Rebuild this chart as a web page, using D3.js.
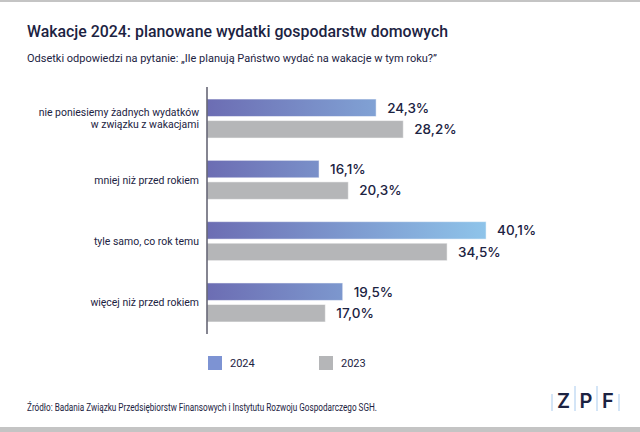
<!DOCTYPE html>
<html><head><meta charset="utf-8">
<script src="https://cdn.jsdelivr.net/npm/d3@7"></script>
<style>
body{margin:0;background:#fff;}
svg{display:block;font-family:Roboto,"Noto Sans",sans-serif;}
</style></head><body>
<svg id="c" width="640" height="432"></svg>
<script>
const categories = ["nie poniesiemy żadnych wydatków\nw związku z wakacjami","mniej niż przed rokiem","tyle samo, co rok temu","więcej niż przed rokiem"];
const series = ["2024","2023"];
const values2024 = [24.3,16.1,40.1,19.5];
const values2023 = [28.2,20.3,34.5,17.0];
const title = "Wakacje 2024: planowane wydatki gospodarstw domowych";
const subtitle = "Odsetki odpowiedzi na pytanie: „Ile planują Państwo wydać na wakacje w tym roku?”";
const source = "Źródło: Badania Związku Przedsiębiorstw Finansowych i Instytutu Rozwoju Gospodarczego SGH.";

const svg = d3.select("#c");
const navy = "#1c2342";
function squeeze(sel, f){ sel.each(function(){ const w=this.getComputedTextLength(); d3.select(this).attr("textLength",w*f).attr("lengthAdjust","spacingAndGlyphs"); }); }

svg.append("rect").attr("x",0).attr("y",0).attr("width",640).attr("height",2).attr("fill","#c4c4c4");
svg.append("rect").attr("x",0).attr("y",427).attr("width",640).attr("height",5).attr("fill","#c4c4c4");

const tt = svg.append("text").attr("x",27).attr("y",37).attr("font-size",16).attr("font-weight",500).attr("fill",navy).text(title);
tt.attr("textLength",421).attr("lengthAdjust","spacingAndGlyphs");
const st = svg.append("text").attr("x",27).attr("y",62).attr("font-size",11.2).attr("fill",navy).text(subtitle);
st.attr("textLength",410).attr("lengthAdjust","spacingAndGlyphs");

const x = d3.scaleLinear().domain([0,50]).range([207,555]);
const y0 = d3.scaleBand().domain(categories).range([88,333]).paddingInner(0.364).paddingOuter(0.18);
const y1 = d3.scaleBand().domain(series).range([0,y0.bandwidth()]).paddingInner(0.19);

const defs = svg.append("defs");
const grad = defs.append("linearGradient").attr("id","g24").attr("gradientUnits","userSpaceOnUse")
  .attr("x1",x(0)).attr("x2",x(40.1)).attr("y1",0).attr("y2",0);
grad.append("stop").attr("offset","0%").attr("stop-color","#6c6db3");
grad.append("stop").attr("offset","100%").attr("stop-color","#8ec4ea");

const data = categories.map((c,i)=>({c, vals:[{s:"2024",v:values2024[i]},{s:"2023",v:values2023[i]}]}));
const fill = {"2024":"url(#g24)","2023":"#b5b6b8"};
const fmt = v => d3.format(".1f")(v).replace(".",",")+"%";

const g = svg.selectAll("g.grp").data(data).join("g").attr("class","grp")
  .attr("transform",d=>`translate(0,${y0(d.c)})`);
g.selectAll("rect").data(d=>d.vals).join("rect")
  .attr("x",x(0)).attr("y",d=>y1(d.s)).attr("width",d=>x(d.v)-x(0)).attr("height",y1.bandwidth())
  .attr("fill",d=>fill[d.s]).attr("stroke","#ffffff").attr("stroke-opacity",0.5).attr("stroke-width",1);
g.selectAll("text.val").data(d=>d.vals).join("text").attr("class","val")
  .attr("x",d=>x(d.v)+11).attr("y",d=>y1(d.s)+y1.bandwidth()/2).attr("dy","0.36em")
  .attr("font-family","Inter,Roboto,sans-serif")
  .attr("font-size",13.5).attr("font-weight",500).attr("fill",navy).text(d=>fmt(d.v));

g.each(function(d){
  const lines = d.c.split("\n");
  const t = d3.select(this).append("text").attr("text-anchor","end").attr("font-size",11).attr("fill",navy);
  const mid = y0.bandwidth()/2;
  lines.forEach((l,i)=>{
    t.append("tspan").attr("x",199).attr("y",mid + (i-(lines.length-1)/2)*12).attr("dy","0.35em").text(l);
  });
});
squeeze(svg.selectAll("g.grp tspan"), 0.95);

svg.append("line").attr("x1",207).attr("x2",207).attr("y1",87).attr("y2",334).attr("stroke","#5c5c6c").attr("stroke-width",1.5);

const legFill = {"2024":"#7d93d3","2023":"#b5b6b8"};
const lg = svg.selectAll("g.leg").data(series).join("g").attr("class","leg")
  .attr("transform",(d,i)=>`translate(${208+i*111},356)`);
lg.append("rect").attr("width",14).attr("height",14).attr("fill",d=>legFill[d]);
lg.append("text").attr("x",22).attr("y",7).attr("dy","0.36em").attr("font-size",11).attr("fill",navy).text(d=>d);

const src = svg.append("text").attr("x",27).attr("y",411).attr("font-size",10).attr("fill",navy).text(source);
src.attr("textLength",350).attr("lengthAdjust","spacingAndGlyphs");

const letters = ["Z","P","F"];
const lx = [552,575,597,619];
svg.selectAll("line.logo").data(lx).join("line").attr("class","logo")
  .attr("x1",d=>d).attr("x2",d=>d).attr("y1",(d,i)=>i%3===0?394:386).attr("y2",411)
  .attr("stroke","#a9cbee").attr("stroke-width",1);
svg.selectAll("text.logo").data(letters).join("text").attr("class","logo")
  .attr("x",(d,i)=>(lx[i]+lx[i+1])/2).attr("y",408).attr("text-anchor","middle")
  .attr("font-family","Inter,Roboto,sans-serif")
  .attr("font-size",20).attr("font-weight",600).attr("fill",navy).text(d=>d);
</script></body></html>
